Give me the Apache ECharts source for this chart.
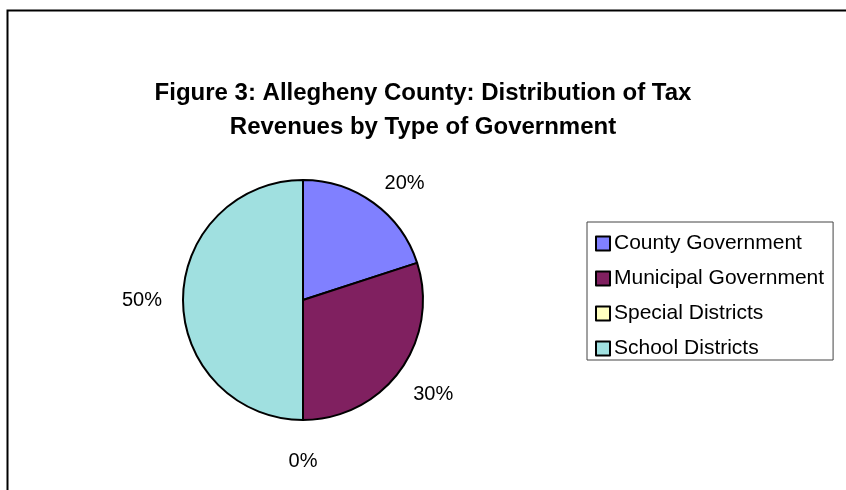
<!DOCTYPE html>
<html>
<head>
<meta charset="utf-8">
<script src="https://cdn.jsdelivr.net/npm/echarts@6/dist/echarts.min.js"></script>
<style>
html,body{margin:0;padding:0;background:#fff;}
#chart{width:846px;height:490px;}
</style>
</head>
<body>
<div id="chart"></div>
<script>
const titleText = 'Figure 3: Allegheny County: Distribution of Tax\nRevenues by Type of Government';
const categories = ['County Government', 'Municipal Government', 'Special Districts', 'School Districts'];
const shares = [20, 30, 0, 50];
const colors = ['#8080FF', '#802060', '#FFFFC0', '#A0E0E0'];

const FONT = "'Liberation Sans', Arial, sans-serif";
const data = categories.map((c, i) => ({ name: c, value: shares[i], itemStyle: { color: colors[i] } }));
const labelData = categories.map((c, i) => ({ name: c, value: shares[i] }));

const chart = echarts.init(document.getElementById('chart'), null, { renderer: 'canvas' });
chart.setOption({
  backgroundColor: '#fff',
  animation: false,
  title: {
    text: titleText,
    left: 'center',
    top: 71,
    textStyle: { fontFamily: FONT, fontWeight: 'bold', fontSize: 24, lineHeight: 34, color: '#000' }
  },
  graphic: [{
    type: 'rect', left: 5, top: 8, silent: true,
    shape: { width: 900, height: 600 },
    style: { fill: 'none', stroke: '#000', lineWidth: 2 }
  }],
  legend: {
    orient: 'vertical',
    left: 587, top: 222,
    padding: [11, 9, 1, 8],
    itemGap: 14,
    itemWidth: 14, itemHeight: 14,
    icon: 'rect',
    borderColor: '#444', borderWidth: 1,
    data: categories,
    itemStyle: { borderColor: '#000', borderWidth: 2 },
    textStyle: { fontFamily: FONT, fontSize: 21, lineHeight: 21, color: '#000', padding: [0, 0, 0, -1] }
  },
  series: [{
    type: 'pie',
    center: [303, 300],
    radius: 120,
    startAngle: 90,
    clockwise: true,
    label: { show: false },
    labelLine: { show: false },
    itemStyle: { borderColor: '#000', borderWidth: 2 },
    emphasis: { disabled: true },
    data: data
  }, {
    type: 'pie',
    center: [303, 300],
    radius: [150, 166],
    startAngle: 90,
    clockwise: true,
    silent: true,
    itemStyle: { color: 'rgba(0,0,0,0)', borderWidth: 0 },
    label: {
      show: true, position: 'inside', formatter: '{d}%',
      fontFamily: FONT, fontSize: 20, color: '#000'
    },
    labelLine: { show: false },
    labelLayout: function (p) {
      return p.dataIndex === 0 ? { dx: 7, dy: 14 } : {};
    },
    emphasis: { disabled: true },
    data: labelData
  }]
});
</script>
</body>
</html>
